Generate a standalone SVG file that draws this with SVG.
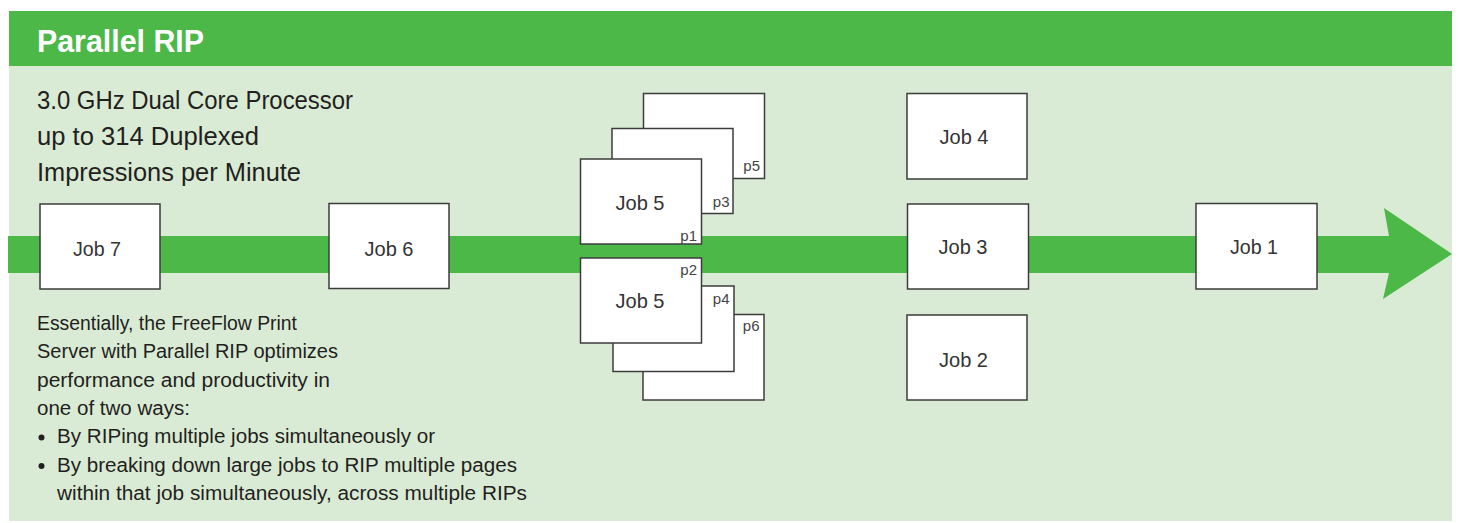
<svg xmlns="http://www.w3.org/2000/svg" width="1459" height="523" viewBox="0 0 1459 523">
  <style>
    .box { fill: #ffffff; stroke: #3c3c3c; stroke-width: 1.5; }
    .lbl { font-family: "Liberation Sans", Arial, sans-serif; font-size: 21px; fill: #333333; text-anchor: middle; }
    .pg { font-family: "Liberation Sans", Arial, sans-serif; font-size: 15px; fill: #444444; text-anchor: end; }
    .sub { font-family: "Liberation Sans", Arial, sans-serif; font-size: 25px; fill: #231f20; }
    .body { font-family: "Liberation Sans", Arial, sans-serif; font-size: 19.5px; fill: #231f20; }
    .title { font-family: "Liberation Sans", Arial, sans-serif; font-size: 32px; font-weight: bold; fill: #ffffff; }
  </style>
  <rect x="0" y="0" width="1459" height="523" fill="#ffffff"/>
  <rect x="9" y="66" width="1443" height="455" fill="#daebd5"/>
  <rect x="9" y="11" width="1443" height="55" fill="#4cb848"/>
  <text class="title" x="37" y="52" textLength="167" lengthAdjust="spacingAndGlyphs">Parallel RIP</text>

  <g id="heading">
    <text class="sub" x="37" y="109" textLength="316" lengthAdjust="spacingAndGlyphs">3.0 GHz Dual Core Processor</text>
    <text class="sub" x="37" y="145" textLength="222" lengthAdjust="spacingAndGlyphs">up to 314 Duplexed</text>
    <text class="sub" x="37" y="181" textLength="264" lengthAdjust="spacingAndGlyphs">Impressions per Minute</text>
  </g>

  <g id="description">
    <text class="body" x="37" y="330" textLength="260" lengthAdjust="spacingAndGlyphs">Essentially, the FreeFlow Print</text>
    <text class="body" x="37" y="358" textLength="301" lengthAdjust="spacingAndGlyphs">Server with Parallel RIP optimizes</text>
    <text class="body" x="37" y="387" textLength="293" lengthAdjust="spacingAndGlyphs">performance and productivity in</text>
    <text class="body" x="37" y="415" textLength="153" lengthAdjust="spacingAndGlyphs">one of two ways:</text>
    <circle cx="41.5" cy="437.5" r="3" fill="#231f20"/>
    <text class="body" x="57" y="443" textLength="378" lengthAdjust="spacingAndGlyphs">By RIPing multiple jobs simultaneously or</text>
    <circle cx="41.5" cy="466" r="3" fill="#231f20"/>
    <text class="body" x="57" y="471.5" textLength="460" lengthAdjust="spacingAndGlyphs">By breaking down large jobs to RIP multiple pages</text>
    <text class="body" x="57" y="500" textLength="470" lengthAdjust="spacingAndGlyphs">within that job simultaneously, across multiple RIPs</text>
  </g>

  <g id="connectors">
    <polygon points="8,236 1389,236 1384,208 1452,254 1383,299 1389,273 8,273" fill="#4cb848"/>
  </g>

  <g id="job7">
    <rect class="box" x="40" y="204" width="120" height="85"/>
    <text class="lbl" x="97" y="256" textLength="48" lengthAdjust="spacingAndGlyphs">Job 7</text>
  </g>
  <g id="job6">
    <rect class="box" x="329" y="203.5" width="120" height="85"/>
    <text class="lbl" x="389" y="256" textLength="49" lengthAdjust="spacingAndGlyphs">Job 6</text>
  </g>

  <g id="job5-odd">
    <rect class="box" x="643.5" y="93.5" width="121" height="85"/>
    <text class="pg" x="760" y="171">p5</text>
    <rect class="box" x="612" y="128.5" width="121" height="85"/>
    <text class="pg" x="729.5" y="207">p3</text>
    <rect class="box" x="580.5" y="159" width="121" height="85"/>
    <text class="lbl" x="640" y="210" textLength="49" lengthAdjust="spacingAndGlyphs">Job 5</text>
    <text class="pg" x="697" y="241">p1</text>
  </g>

  <g id="job5-even">
    <rect class="box" x="643" y="314.5" width="121" height="85.5"/>
    <text class="pg" x="759.5" y="331">p6</text>
    <rect class="box" x="613" y="286" width="121" height="85.5"/>
    <text class="pg" x="729.5" y="303.5">p4</text>
    <rect class="box" x="580.5" y="258" width="121" height="85"/>
    <text class="lbl" x="640" y="308" textLength="49" lengthAdjust="spacingAndGlyphs">Job 5</text>
    <text class="pg" x="697" y="275">p2</text>
  </g>

  <g id="job4">
    <rect class="box" x="907" y="93.5" width="120" height="85.5"/>
    <text class="lbl" x="964" y="143.5" textLength="49" lengthAdjust="spacingAndGlyphs">Job 4</text>
  </g>
  <g id="job3">
    <rect class="box" x="907.5" y="204" width="121" height="85"/>
    <text class="lbl" x="963" y="253.5" textLength="49" lengthAdjust="spacingAndGlyphs">Job 3</text>
  </g>
  <g id="job2">
    <rect class="box" x="907" y="315" width="120" height="85"/>
    <text class="lbl" x="963.5" y="366.5" textLength="49" lengthAdjust="spacingAndGlyphs">Job 2</text>
  </g>
  <g id="job1">
    <rect class="box" x="1196" y="203.5" width="121" height="85.5"/>
    <text class="lbl" x="1254" y="254" textLength="48" lengthAdjust="spacingAndGlyphs">Job 1</text>
  </g>
</svg>
